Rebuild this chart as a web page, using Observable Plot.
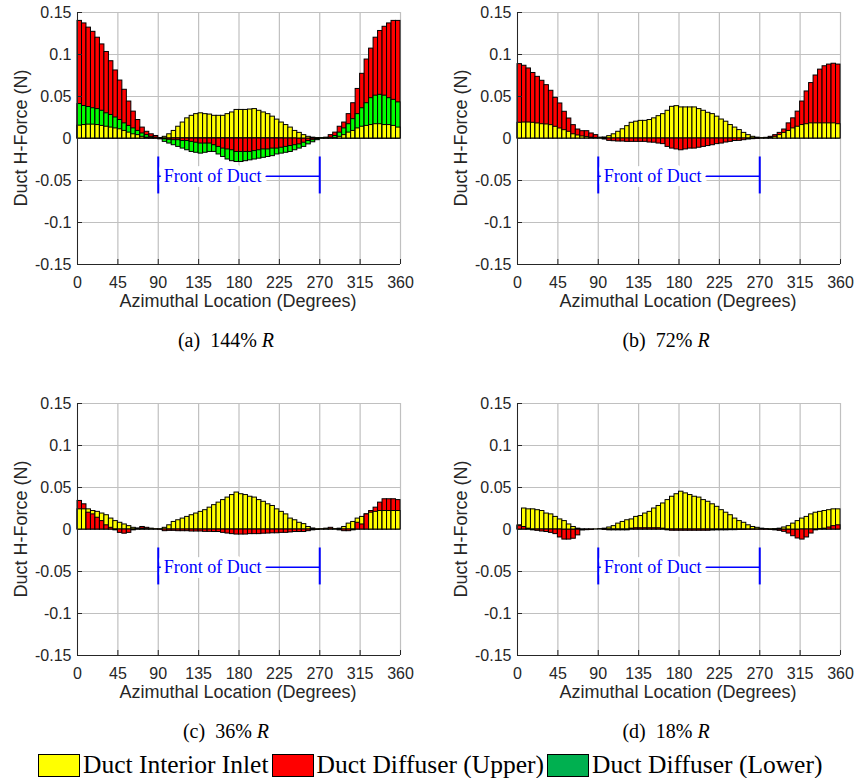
<!DOCTYPE html>
<html>
<head>
<meta charset="utf-8">
<script src="https://cdn.jsdelivr.net/npm/d3@7"></script>
<script src="https://cdn.jsdelivr.net/npm/@observablehq/plot@0.6"></script>
<style>
  html, body { margin: 0; padding: 0; background: #fff; }
  #page { position: relative; width: 858px; height: 778px; overflow: hidden; background: #fff; }
  .panel { position: absolute; }
  .xlab, .ylab { position: absolute; font-family: "Liberation Sans", Arial, sans-serif; font-size: 18px; color: #262626; white-space: nowrap; }
  .xlab { transform: translate(-50%, -50%); }
  .ylab { transform: translate(-50%, -50%) rotate(-90deg); }
  .cap { position: absolute; font-family: "Liberation Serif", "Times New Roman", serif; font-size: 20px; color: #000; white-space: nowrap; transform: translate(-50%, -50%); }
  #legend { position: absolute; left: 38px; top: 750px; display: flex; align-items: center; font-family: "Liberation Serif", "Times New Roman", serif; font-size: 25.5px; color: #000; white-space: nowrap; }
  .sw { width: 42px; height: 23px; border: 1px solid #000; box-sizing: border-box; margin-right: 3px; }
  .lt { margin-right: 3px; }
</style>
</head>
<body>
<div id="page"></div>
<script>
// Azimuthal bin starts (degrees), each bar spans 5 degrees
const azimuth = [0,5,10,15,20,25,30,35,40,45,50,55,60,65,70,75,80,85,90,95,100,105,110,115,120,125,130,135,140,145,150,155,160,165,170,175,180,185,190,195,200,205,210,215,220,225,230,235,240,245,250,255,260,265,270,275,280,285,290,295,300,305,310,315,320,325,330,335,340,345,350,355];
const binWidth = 5;
const xTicks = [0,45,90,135,180,225,270,315,360];
const yTicks = [-0.15,-0.1,-0.05,0,0.05,0.1,0.15];
const seriesNames = ["Duct Interior Inlet","Duct Diffuser (Upper)","Duct Diffuser (Lower)"];
const barColors = ["#ffff00","#ff0000","#00ff00"];
const legendColors = ["#ffff00","#ff0000","#00b050"];
const captions = ["(a)&nbsp;&nbsp;144% <i>R</i>","(b)&nbsp;&nbsp;72% <i>R</i>","(c)&nbsp;&nbsp;36% <i>R</i>","(d)&nbsp;&nbsp;18% <i>R</i>"];
const frontLabel = "Front of Duct";
const frontRange = [90, 270];

// (a) 144% R
const a_inlet = [0.0153,0.016,0.0165,0.0165,0.016,0.015,0.014,0.013,0.012,0.011,0.009,0.007,0.005,0.004,0.002,0.001,0.0005,0.0002,0.0005,0.002,0.005,0.009,0.014,0.019,0.024,0.027,0.029,0.030,0.029,0.0285,0.027,0.027,0.027,0.029,0.031,0.034,0.034,0.034,0.0345,0.035,0.033,0.031,0.029,0.026,0.0225,0.019,0.016,0.013,0.009,0.0067,0.004,0.002,0.001,0.0005,0.0002,0.0002,0.0003,0.0005,0.002,0.004,0.007,0.009,0.012,0.014,0.015,0.016,0.017,0.017,0.016,0.016,0.015,0.013];
const a_upper = [0.140,0.137,0.132,0.127,0.120,0.112,0.103,0.092,0.081,0.069,0.058,0.044,0.032,0.022,0.013,0.008,0.005,0.003,-0.0005,-0.001,-0.0015,-0.002,-0.002,-0.003,-0.003,-0.004,-0.005,-0.006,-0.006,-0.006,-0.008,-0.010,-0.012,-0.013,-0.014,-0.016,-0.016,-0.016,-0.016,-0.015,-0.014,-0.013,-0.013,-0.012,-0.012,-0.011,-0.010,-0.009,-0.008,-0.007,-0.005,-0.003,-0.002,-0.001,0.0004,0.001,0.004,0.007,0.014,0.019,0.029,0.042,0.059,0.077,0.094,0.107,0.120,0.128,0.133,0.137,0.140,0.140];
const a_lower = [0.041,0.0387,0.0375,0.036,0.035,0.033,0.030,0.028,0.025,0.022,0.018,0.015,0.012,0.009,0.006,0.004,0.002,0.001,-0.001,-0.004,-0.006,-0.008,-0.010,-0.012,-0.014,-0.016,-0.017,-0.018,-0.017,-0.016,-0.016,-0.019,-0.022,-0.025,-0.027,-0.028,-0.028,-0.027,-0.026,-0.025,-0.024,-0.023,-0.022,-0.021,-0.019,-0.018,-0.017,-0.016,-0.014,-0.012,-0.010,-0.007,-0.0045,-0.002,0.0002,0.0005,0.001,0.003,0.007,0.012,0.017,0.023,0.029,0.036,0.042,0.048,0.051,0.052,0.051,0.048,0.046,0.043];

// (b) 72% R
const b_inlet = [0.0187,0.019,0.019,0.0187,0.0179,0.017,0.0167,0.0159,0.0139,0.0119,0.0099,0.008,0.005,0.0036,0.0024,0.0016,0.001,0.0005,0.0003,0.0012,0.0028,0.005,0.008,0.011,0.0147,0.0187,0.020,0.021,0.021,0.022,0.024,0.0266,0.029,0.033,0.0377,0.0385,0.037,0.037,0.037,0.037,0.035,0.033,0.0306,0.029,0.026,0.0226,0.020,0.016,0.013,0.010,0.0067,0.004,0.002,0.001,0.0002,0.0005,0.001,0.002,0.004,0.0067,0.009,0.012,0.014,0.016,0.017,0.018,0.018,0.018,0.018,0.018,0.018,0.017];
const b_upper = [0.0885,0.0866,0.0834,0.078,0.0734,0.0687,0.0635,0.0568,0.0484,0.0417,0.0318,0.0238,0.0159,0.0107,0.0087,0.0087,0.006,0.004,0.001,-0.0012,-0.0028,-0.0032,-0.0036,-0.0036,-0.004,-0.004,-0.004,-0.004,-0.004,-0.0048,-0.005,-0.006,-0.0067,-0.010,-0.012,-0.013,-0.014,-0.013,-0.012,-0.012,-0.011,-0.010,-0.009,-0.008,-0.0067,-0.006,-0.0048,-0.004,-0.003,-0.0028,-0.002,-0.0012,-0.0008,-0.0004,0.0004,0.0008,0.002,0.004,0.0067,0.0107,0.018,0.024,0.032,0.044,0.056,0.066,0.075,0.082,0.086,0.088,0.089,0.088];

// (c) 36% R
const c_inlet = [0.024,0.024,0.024,0.022,0.021,0.019,0.017,0.013,0.010,0.008,0.006,0.004,0.002,0.001,0.001,0.0005,0.0003,0.0002,0.0003,0.002,0.005,0.009,0.011,0.013,0.015,0.017,0.019,0.021,0.023,0.026,0.029,0.032,0.035,0.038,0.041,0.044,0.042,0.041,0.039,0.038,0.035,0.033,0.030,0.028,0.024,0.021,0.018,0.013,0.011,0.008,0.0064,0.003,0.0012,0.0003,0.0002,0.0002,0.0002,0.0003,0.001,0.003,0.007,0.009,0.013,0.015,0.018,0.020,0.021,0.022,0.022,0.022,0.022,0.022];
const c_upper = [0.034,0.030,0.020,0.018,0.014,0.010,0.005,0.002,-0.001,-0.004,-0.005,-0.004,-0.001,0.001,0.003,0.002,0.001,0.0003,-0.0003,-0.002,-0.0016,-0.0016,-0.002,-0.002,-0.002,-0.0024,-0.0024,-0.0024,-0.0028,-0.0028,-0.003,-0.003,-0.004,-0.0048,-0.0055,-0.006,-0.006,-0.006,-0.0055,-0.0055,-0.0055,-0.005,-0.0048,-0.0045,-0.0045,-0.004,-0.004,-0.0035,-0.003,-0.003,-0.003,-0.002,-0.001,-0.0005,0.0003,0.001,0.002,0.0005,-0.001,-0.002,-0.002,-0.001,0.008,0.006,0.018,0.022,0.026,0.032,0.036,0.036,0.036,0.035];

// (d) 18% R
const d_inlet = [0.005,0.025,0.024,0.024,0.023,0.022,0.019,0.018,0.015,0.012,0.010,0.006,0.003,0.001,-0.001,-0.0008,-0.0005,0.0002,0.0005,0.001,0.0024,0.004,0.007,0.009,0.011,0.012,0.015,0.016,0.019,0.021,0.025,0.028,0.031,0.035,0.039,0.042,0.045,0.043,0.041,0.039,0.038,0.035,0.033,0.030,0.027,0.023,0.020,0.017,0.013,0.010,0.008,0.005,0.003,0.002,0.001,0.0005,0.0003,0.0005,0.001,0.0024,0.004,0.007,0.010,0.013,0.015,0.018,0.020,0.021,0.022,0.023,0.024,0.024];
const d_upper = [0.004,0.003,0.001,-0.001,-0.0016,-0.0024,-0.003,-0.004,-0.0055,-0.0095,-0.012,-0.012,-0.011,-0.007,-0.0008,-0.0005,-0.0003,0,0,-0.0005,-0.001,-0.001,-0.001,-0.001,-0.001,0.001,0.0015,0.0015,0.0015,0.0015,0.0015,0.0015,0.001,-0.001,-0.0015,-0.0015,-0.0015,-0.0015,-0.0015,-0.0015,-0.0015,-0.0015,-0.0015,-0.0012,-0.001,-0.001,-0.001,-0.0008,-0.0008,-0.0005,-0.0005,-0.0003,-0.0003,-0.0002,-0.0002,-0.0003,-0.0005,-0.001,-0.0016,-0.0028,-0.0048,-0.008,-0.0107,-0.012,-0.0095,-0.0048,-0.001,0.0005,0.001,0.0024,0.004,0.005];

const panels = [
  {series: [a_inlet, a_upper, a_lower], left: 0,   top: 0},
  {series: [b_inlet, b_upper],          left: 440, top: 0},
  {series: [c_inlet, c_upper],          left: 0,   top: 391},
  {series: [d_inlet, d_upper],          left: 440, top: 391}
];

const page = document.getElementById("page");
const fmt = d => String(+d.toFixed(2));

panels.forEach((p, pi) => {
  // Overlapping bars: at each azimuth, the largest magnitude is drawn first (behind)
  const rows = [];
  azimuth.forEach((az, i) => {
    const items = p.series.map((s, si) => ({x1: az, x2: az + binWidth, v: s[i], color: barColors[si]}));
    items.sort((u, w) => Math.abs(w.v) - Math.abs(u.v));
    rows.push(...items);
  });

  const chart = Plot.plot({
    width: 418, height: 290,
    marginLeft: 77, marginRight: 18, marginTop: 12, marginBottom: 26,
    x: {domain: [0, 360]},
    y: {domain: [-0.15, 0.15]},
    color: {type: "identity"},
    style: {fontFamily: "'Liberation Sans', Arial, sans-serif", fontSize: "16px", color: "#262626", background: "white", overflow: "visible"},
    marks: [
      Plot.gridX(xTicks, {stroke: "#c0c0c0", strokeOpacity: 1, strokeWidth: 1.2}),
      Plot.gridY(yTicks, {stroke: "#c0c0c0", strokeOpacity: 1, strokeWidth: 1.2}),
      Plot.rectY(rows, {x1: "x1", x2: "x2", y1: 0, y2: "v", fill: "color", stroke: "#000", strokeWidth: 1}),
      Plot.ruleY([-0.045], {x1: frontRange[0], x2: frontRange[1], stroke: "#0000ff", strokeWidth: 1.5}),
      Plot.ruleX(frontRange, {y1: -0.066, y2: -0.022, stroke: "#0000ff", strokeWidth: 2}),
      Plot.text([frontLabel], {x: 96, y: -0.045, text: d => d, textAnchor: "start", fill: "#0000ff",
        stroke: "white", strokeWidth: 10, fontFamily: "'Liberation Serif', 'Times New Roman', serif", fontSize: 18}),
      Plot.ruleX([0], {stroke: "#262626", strokeWidth: 1}),
      Plot.ruleY([-0.15], {stroke: "#262626", strokeWidth: 1}),
      Plot.tickX(xTicks, {x: d => d, stroke: "#262626", insetTop: 247}),
      Plot.tickY(yTicks, {y: d => d, stroke: "#262626", insetRight: 318}),
      Plot.axisX(xTicks, {tickSize: 0, tickPadding: 12, label: null, fontSize: 16, fill: "#262626"}),
      Plot.axisY(yTicks, {tickSize: 0, tickPadding: 6, tickFormat: fmt, label: null, fontSize: 16, fill: "#262626"})
    ]
  });
  chart.classList.add("panel");
  chart.style.left = p.left + "px";
  chart.style.top = p.top + "px";
  page.appendChild(chart);

  const xl = document.createElement("div");
  xl.className = "xlab";
  xl.textContent = "Azimuthal Location (Degrees)";
  xl.style.left = (p.left + 238) + "px";
  xl.style.top = (p.top + 301) + "px";
  page.appendChild(xl);

  const yl = document.createElement("div");
  yl.className = "ylab";
  yl.textContent = "Duct H-Force (N)";
  yl.style.left = (p.left + 21) + "px";
  yl.style.top = (p.top + 138) + "px";
  page.appendChild(yl);

  const cap = document.createElement("div");
  cap.className = "cap";
  cap.innerHTML = captions[pi];
  cap.style.left = (p.left + 226) + "px";
  cap.style.top = (p.top + 340) + "px";
  page.appendChild(cap);
});

const legend = document.createElement("div");
legend.id = "legend";
seriesNames.forEach((name, i) => {
  const sw = document.createElement("div");
  sw.className = "sw";
  sw.style.background = legendColors[i];
  const t = document.createElement("span");
  t.className = "lt";
  t.textContent = name;
  legend.appendChild(sw);
  legend.appendChild(t);
});
page.appendChild(legend);
</script>
</body>
</html>
